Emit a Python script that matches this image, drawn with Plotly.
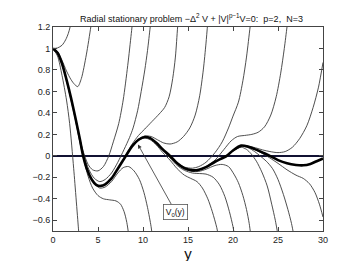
import plotly.graph_objects as go

# Thick curve V0(y)
v0 = [(0, 1.0), (0.5, 0.96), (1, 0.86), (1.5, 0.71), (2, 0.54), (2.5, 0.35), (3, 0.15), (3.35, 0.0),
      (3.8, -0.13), (4.3, -0.22), (4.8, -0.27), (5.3, -0.28), (5.8, -0.265), (6.5, -0.21), (7.2, -0.12),
      (8.1, 0.0), (8.8, 0.09), (9.5, 0.15), (10.2, 0.175), (10.8, 0.165), (11.5, 0.12), (12.2, 0.06),
      (13, 0.0), (13.8, -0.07), (14.6, -0.115), (15.5, -0.135), (16.2, -0.13), (17, -0.105), (18, -0.055),
      (19.3, 0.0), (20, 0.05), (20.9, 0.095), (21.7, 0.085), (22.5, 0.06), (23.3, 0.03), (24.1, 0.0),
      (25, -0.04), (26, -0.07), (27, -0.085), (27.8, -0.088), (28.6, -0.075), (29.3, -0.05), (30, -0.025)]

# Thin curves that blow up upwards
u1 = [(0, 1.0), (0.5, 1.005), (1, 1.03), (1.4, 1.08), (1.7, 1.14), (1.9, 1.2), (2.05, 1.27)]
u2 = [(0, 1.0), (0.5, 0.97), (1, 0.89), (1.5, 0.79), (2, 0.71), (2.4, 0.665), (2.75, 0.645), (3.15, 0.72),
      (3.7, 0.94), (4.2, 1.2), (4.4, 1.32)]
u3 = [(3.0, 0.15), (3.4, 0.03), (3.9, -0.08), (4.4, -0.13), (5, -0.14), (5.6, -0.1), (6.2, 0.0), (6.7, 0.13),
      (7.3, 0.3), (7.8, 0.52), (8.3, 0.84), (8.7, 1.14), (8.9, 1.3)]
u4 = [(3.0, 0.15), (3.4, 0.01), (4, -0.13), (4.6, -0.21), (5.2, -0.24), (5.8, -0.22), (6.5, -0.16), (7.2, -0.06),
      (7.9, 0.06), (8.5, 0.17), (8.9, 0.26), (9.4, 0.42), (9.8, 0.6), (10.2, 0.8), (10.5, 0.98), (10.8, 1.2),
      (10.95, 1.32)]
u5 = [(6.5, -0.21), (7.2, -0.115), (8.1, 0.01), (8.8, 0.11), (9.5, 0.19), (10.2, 0.25), (11, 0.32), (11.8, 0.39),
      (12.4, 0.45), (12.9, 0.55), (13.3, 0.72), (13.6, 0.92), (13.85, 1.2), (14.0, 1.32)]
u6 = [(8.1, 0.0), (8.8, 0.095), (9.5, 0.155), (10.2, 0.185), (10.9, 0.18), (11.6, 0.15), (12.3, 0.12), (13, 0.11),
      (13.8, 0.13), (14.5, 0.18), (15.2, 0.26), (15.8, 0.38), (16.3, 0.56), (16.7, 0.8), (17.0, 1.05), (17.2, 1.25)]
u7 = [(12.2, 0.06), (13, 0.0), (13.8, -0.065), (14.6, -0.105), (15.5, -0.115), (16.2, -0.1), (17, -0.06), (18, 0.03),
      (18.8, 0.13), (19.5, 0.26), (20, 0.37), (20.6, 0.5), (21.1, 0.7), (21.5, 0.92), (21.9, 1.2), (22.05, 1.3)]
u8 = [(16.2, -0.13), (17, -0.1), (18, -0.04), (19, 0.06), (19.8, 0.14), (20.5, 0.18), (21.3, 0.19), (22.1, 0.2),
      (22.8, 0.22), (23.5, 0.27), (24.2, 0.38), (24.8, 0.55), (25.3, 0.77), (25.7, 1.0), (26.0, 1.2), (26.15, 1.3)]
u9 = [(20.9, 0.095), (21.7, 0.09), (22.5, 0.075), (23.3, 0.055), (24.1, 0.04), (25, 0.03), (25.8, 0.04),
      (26.6, 0.08), (27.4, 0.16), (28.2, 0.28), (28.9, 0.45), (29.5, 0.64), (30, 0.87)]

# Thin curves that blow up downwards
d1 = [(0, 1.0), (0.5, 0.93), (1, 0.75), (1.5, 0.52), (1.85, 0.3), (2.3, -0.12), (2.85, -0.7), (2.95, -0.8)]
d2 = [(0, 1.0), (0.5, 0.955), (1, 0.85), (1.5, 0.7), (2, 0.52), (2.5, 0.33), (3, 0.12), (3.4, -0.03), (3.9, -0.19),
      (4.4, -0.3), (5, -0.37), (5.6, -0.4), (6.3, -0.41), (7.0, -0.42), (7.5, -0.45), (7.9, -0.52), (8.2, -0.62),
      (8.45, -0.76)]
d3 = [(3.35, 0.0), (3.9, -0.15), (4.5, -0.25), (5.2, -0.3), (5.8, -0.29), (6.5, -0.24), (7.2, -0.16), (7.8, -0.11),
      (8.4, -0.1), (9, -0.14), (9.6, -0.22), (10.1, -0.34), (10.5, -0.48), (10.9, -0.66), (11.05, -0.76)]
d4 = [(8.8, 0.09), (9.5, 0.145), (10.2, 0.165), (10.8, 0.15), (11.5, 0.1), (12.2, 0.03), (13, -0.04), (13.8, -0.12),
      (14.6, -0.18), (15.3, -0.21), (16, -0.24), (16.6, -0.3), (17.2, -0.4), (17.7, -0.52), (18.2, -0.67),
      (18.4, -0.76)]
d5 = [(10.2, 0.175), (10.8, 0.16), (11.5, 0.11), (12.2, 0.05), (13, -0.02), (13.8, -0.09), (14.6, -0.135),
      (15.5, -0.16), (16.3, -0.165), (17, -0.17), (17.8, -0.2), (18.5, -0.27), (19.1, -0.38), (19.6, -0.52),
      (20.0, -0.66), (20.2, -0.76)]
d6 = [(13, 0.0), (13.8, -0.075), (14.6, -0.125), (15.5, -0.145), (16.2, -0.145), (17, -0.125), (18, -0.09),
      (18.8, -0.08), (19.5, -0.1), (20.1, -0.17), (20.6, -0.25), (21.1, -0.37), (21.5, -0.5), (21.8, -0.63),
      (22.0, -0.76)]
d7 = [(18, -0.055), (19.3, 0.0), (20, 0.045), (20.9, 0.08), (21.5, 0.06), (22, 0.02), (22.6, -0.05), (23.2, -0.15),
      (23.8, -0.28), (24.3, -0.45), (24.7, -0.6), (25.0, -0.74)]
d8 = [(19.3, 0.0), (20, 0.05), (20.9, 0.09), (21.7, 0.075), (22.4, 0.04), (23, 0.0), (23.7, -0.05), (24.4, -0.12),
      (25, -0.22), (25.6, -0.36), (26.1, -0.5), (26.5, -0.63), (26.8, -0.76)]
d9 = [(21.7, 0.085), (22.5, 0.055), (23.3, 0.02), (24.1, -0.02), (25, -0.07), (26, -0.13), (27, -0.18),
      (27.8, -0.21), (28.5, -0.26), (29.1, -0.34), (29.6, -0.45), (30, -0.57)]

thin_curves = [u1, u2, u3, u4, u5, u6, u7, u8, u9, d1, d2, d3, d4, d5, d6, d7, d8, d9]

x_ticks = [0, 5, 10, 15, 20, 25, 30]
y_ticks = [-0.6, -0.4, -0.2, 0, 0.2, 0.4, 0.6, 0.8, 1, 1.2]
y_ticktext = ["\u22120.6", "\u22120.4", "\u22120.2", "0", "0.2", "0.4", "0.6", "0.8", "1", "1.2"]

fig = go.Figure()
for c in thin_curves:
    fig.add_trace(go.Scatter(x=[p[0] for p in c], y=[p[1] for p in c], mode="lines",
                             line=dict(color="#3a3a3a", width=0.9, shape="spline", smoothing=0.8),
                             hoverinfo="skip", showlegend=False))
fig.add_trace(go.Scatter(x=[p[0] for p in v0], y=[p[1] for p in v0], mode="lines",
                         line=dict(color="#000000", width=2.6, shape="spline", smoothing=0.8),
                         showlegend=False))

font_family = "Liberation Sans, Arial, sans-serif"
axis_common = dict(showgrid=False, showline=True, linecolor="#444", linewidth=1, mirror="ticks",
                   ticks="inside", ticklen=4, tickcolor="#444", tickwidth=0.8,
                   tickfont=dict(family=font_family, size=9, color="#222"))

fig.update_layout(
    width=348, height=261,
    margin=dict(l=45, r=33, t=19, b=29),
    paper_bgcolor="white", plot_bgcolor="white",
    font=dict(family=font_family, color="#222"),
    title=dict(text="Radial stationary problem \u2212\u0394<sup>2</sup> V + |V|<sup>p\u22121</sup>V=0:  p=2,  N=3",
               x=0.513, xref="paper", xanchor="center", y=0.958, yref="container", yanchor="middle",
               font=dict(family=font_family, size=9, color="#111")),
    xaxis=dict(range=[0, 30], tickvals=x_ticks, zeroline=False,
               title=dict(text="y", font=dict(family=font_family, size=15, color="#111"), standoff=2),
               **axis_common),
    yaxis=dict(range=[-0.7, 1.2], tickvals=y_ticks, ticktext=y_ticktext,
               zeroline=True, zerolinecolor="#111133", zerolinewidth=1.6, **axis_common),
    annotations=[dict(x=9.44, y=0.106, xref="x", yref="y", ax=13.6, ay=-0.52, axref="x", ayref="y",
                      text="V<sub>0</sub>(y)", showarrow=True, arrowhead=2, arrowsize=1, arrowwidth=0.8,
                      arrowcolor="#333", font=dict(family=font_family, size=8.5, color="#111"),
                      bordercolor="#555", borderwidth=0.8, borderpad=2, bgcolor="white")],
)

fig.write_html("out.html")
